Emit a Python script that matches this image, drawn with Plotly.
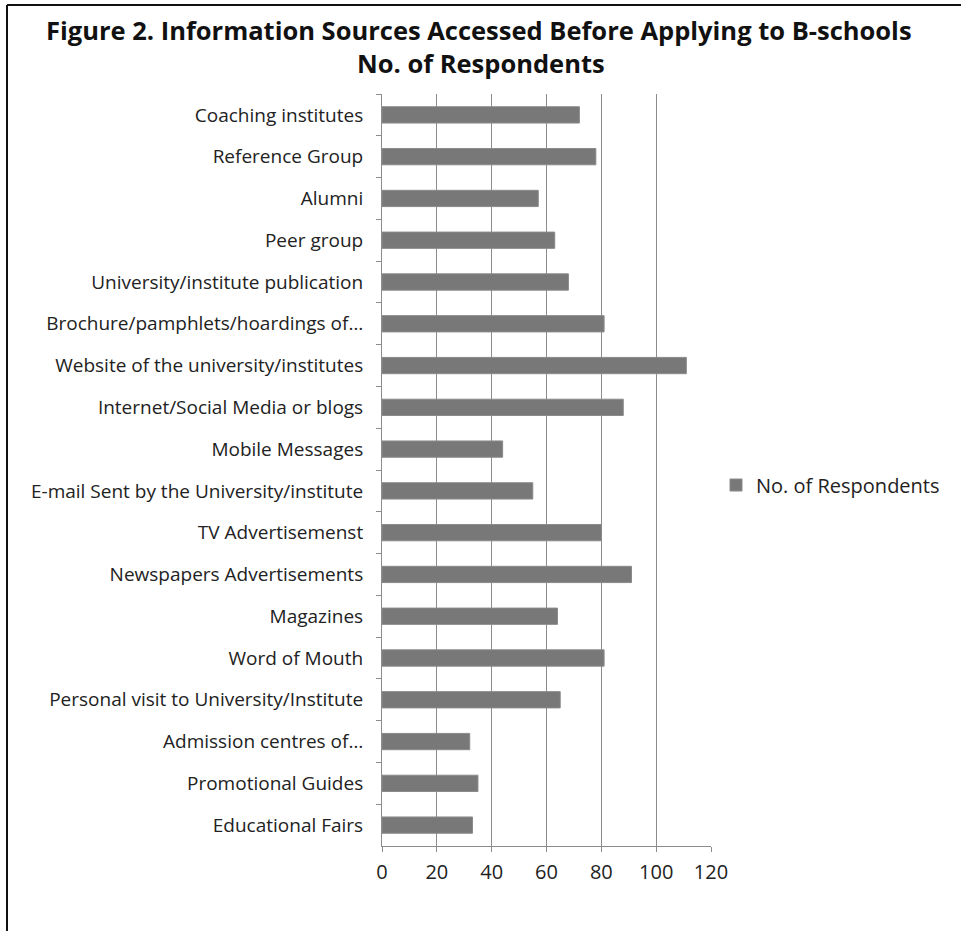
import plotly.graph_objects as go

categories = [
    "Coaching institutes",
    "Reference Group",
    "Alumni",
    "Peer group",
    "University/institute publication",
    "Brochure/pamphlets/hoardings of…",
    "Website of the university/institutes",
    "Internet/Social Media or blogs",
    "Mobile Messages",
    "E-mail Sent by the University/institute",
    "TV Advertisemenst",
    "Newspapers Advertisements",
    "Magazines",
    "Word of Mouth",
    "Personal visit to University/Institute",
    "Admission centres of…",
    "Promotional Guides",
    "Educational Fairs",
]
respondents = [72, 78, 57, 63, 68, 81, 111, 88, 44, 55, 80, 91, 64, 81, 65, 32, 35, 33]
x_ticks = [0, 20, 40, 60, 80, 100, 120]
title_lines = [
    "Figure 2. Information Sources Accessed Before Applying to B-schools",
    "No. of Respondents",
]

FONT = "Open Sans"

fig = go.Figure()
fig.add_trace(go.Bar(
    y=categories, x=respondents, orientation="h",
    name="No. of Respondents",
    marker=dict(color="#787878", line=dict(color="#8a8a8a", width=1)),
    width=0.39,
    showlegend=True,
))

# plot area pixels: x 382..711, y 94..846
L, R, T, B = 382, 711, 94, 846
W, H = R - L, B - T
def px(x):
    return (x - L) / W
def py(y):
    return (B - y) / H

fig.update_layout(
    width=961, height=931,
    margin=dict(l=L, r=961 - R, t=T, b=931 - B, pad=0),
    paper_bgcolor="white", plot_bgcolor="white",
    font=dict(family=FONT, color="#222222", size=17),
    legend=dict(
        x=px(716), xanchor="left", y=py(485), yanchor="middle",
        font=dict(family=FONT, size=20, color="#222222"),
        itemwidth=30,
    ),
    xaxis=dict(
        range=[0, 120], tickvals=x_ticks, ticktext=[str(v) for v in x_ticks],
        showgrid=True, gridcolor="#8c8c8c", gridwidth=1,
        showline=True, linecolor="#8c8c8c", linewidth=1,
        ticks="outside", ticklen=5, tickcolor="#8c8c8c",
        zeroline=False, fixedrange=True,
        ticklabelstandoff=3,
        tickfont=dict(family=FONT, size=20, color="#222222"),
    ),
    yaxis=dict(
        autorange="reversed", type="category",
        showgrid=False, showline=True, linecolor="#8c8c8c", linewidth=1,
        ticks="outside", ticklen=5, tickcolor="#8c8c8c", tickson="boundaries",
        ticklabelstandoff=14,
        tickfont=dict(family=FONT, size=19, color="#222222"),
    ),
    shapes=[
        dict(type="line", xref="paper", yref="paper",
             x0=px(7), x1=px(7), y0=py(5), y1=py(935),
             line=dict(color="#111111", width=2)),
        dict(type="line", xref="paper", yref="paper",
             x0=px(7), x1=px(965), y0=py(5), y1=py(5),
             line=dict(color="#111111", width=2)),
    ],
    annotations=[
        dict(text=f"<b>{title_lines[0]}</b>", xref="paper", yref="paper",
             x=px(479), y=py(30), xanchor="center", yanchor="middle",
             showarrow=False, font=dict(family=FONT, size=25.5, color="#111111")),
        dict(text=f"<b>{title_lines[1]}</b>", xref="paper", yref="paper",
             x=px(481), y=py(63), xanchor="center", yanchor="middle",
             showarrow=False, font=dict(family=FONT, size=25.5, color="#111111")),
    ],
)

fig.write_html("out.html")
